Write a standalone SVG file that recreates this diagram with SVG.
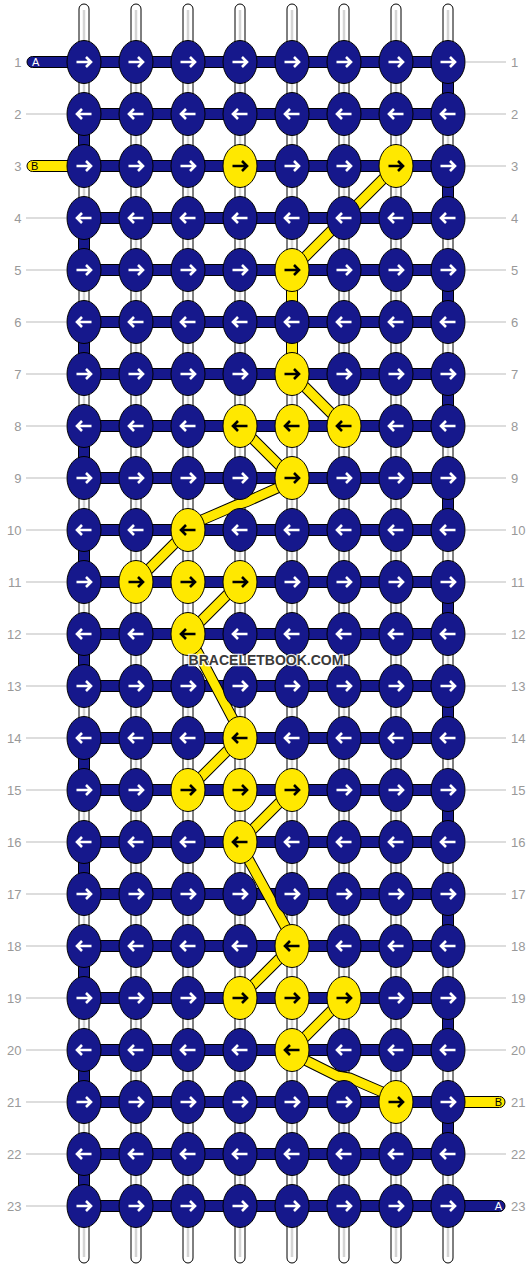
<svg xmlns="http://www.w3.org/2000/svg" xmlns:xlink="http://www.w3.org/1999/xlink" width="532" height="1268" viewBox="0 0 532 1268">
<style>
.str{fill:#fff;stroke:#000;stroke-width:1}
.strc{stroke:#d4d4d4;stroke-width:2.5}
.bar{fill:#16188c;stroke:#000;stroke-width:1}
.ybar{fill:#ffe800;stroke:#000;stroke-width:1}
.kb{fill:#16188c;stroke:#000;stroke-width:1}
.ky{fill:#ffe800;stroke:#000;stroke-width:1}
.aw{fill:none;stroke:#fff;stroke-width:2.6}
.ak{fill:none;stroke:#000;stroke-width:2.6}
.yo{fill:none;stroke:#000;stroke-width:11}
.yi{fill:none;stroke:#ffe800;stroke-width:9}
.num{font-family:"Liberation Sans",Arial,sans-serif;font-size:13px;fill:#999}
.tick{stroke:#bbb;stroke-width:1}
.lab{font-family:"Liberation Sans",Arial,sans-serif;font-size:11px}
.wm{font-family:"Liberation Sans",Arial,sans-serif;font-size:14px;font-weight:bold;fill:#3a3a3a;stroke:#fff;stroke-width:2.5;stroke-opacity:0.85;paint-order:stroke;text-anchor:middle}
</style>
<defs>
<g id="bR"><ellipse rx="17" ry="21.5" class="kb"/><path d="M-7.5,0H7M2,-5L7,0L2,5" class="aw"/></g>
<g id="bL"><ellipse rx="17" ry="21.5" class="kb"/><path d="M7.5,0H-7M-2,-5L-7,0L-2,5" class="aw"/></g>
<g id="yR"><ellipse rx="17" ry="21.5" class="ky"/><path d="M-7.5,0H7M2,-5L7,0L2,5" class="ak"/></g>
<g id="yL"><ellipse rx="17" ry="21.5" class="ky"/><path d="M7.5,0H-7M-2,-5L-7,0L-2,5" class="ak"/></g>
</defs>
<rect width="532" height="1268" fill="#fff"/>
<g id="strings">
<rect class="str" x="79" y="4" width="10" height="1259" rx="5"/>
<rect class="str" x="131" y="4" width="10" height="1259" rx="5"/>
<rect class="str" x="183" y="4" width="10" height="1259" rx="5"/>
<rect class="str" x="235" y="4" width="10" height="1259" rx="5"/>
<rect class="str" x="287" y="4" width="10" height="1259" rx="5"/>
<rect class="str" x="339" y="4" width="10" height="1259" rx="5"/>
<rect class="str" x="391" y="4" width="10" height="1259" rx="5"/>
<rect class="str" x="443" y="4" width="10" height="1259" rx="5"/>
<path class="strc" d="M84,10V1257M136,10V1257M188,10V1257M240,10V1257M292,10V1257M344,10V1257M396,10V1257M448,10V1257"/>
</g>
<g id="connectors">
<g id="row-bars">
<rect class="bar" x="27" y="56.5" width="70" height="11" rx="5.5"/>
<rect class="ybar" x="27" y="160.5" width="70" height="11" rx="5.5"/>
<rect class="ybar" x="435" y="1096.5" width="70" height="11" rx="5.5"/>
<rect class="bar" x="435" y="1200.5" width="70" height="11" rx="5.5"/>
<rect class="bar" x="84" y="56.5" width="364" height="11"/>
<rect class="bar" x="84" y="108.5" width="364" height="11"/>
<rect class="bar" x="84" y="160.5" width="364" height="11"/>
<rect class="bar" x="84" y="212.5" width="364" height="11"/>
<rect class="bar" x="84" y="264.5" width="364" height="11"/>
<rect class="bar" x="84" y="316.5" width="364" height="11"/>
<rect class="bar" x="84" y="368.5" width="364" height="11"/>
<rect class="bar" x="84" y="420.5" width="364" height="11"/>
<rect class="bar" x="84" y="472.5" width="364" height="11"/>
<rect class="bar" x="84" y="524.5" width="364" height="11"/>
<rect class="bar" x="84" y="576.5" width="364" height="11"/>
<rect class="bar" x="84" y="628.5" width="364" height="11"/>
<rect class="bar" x="84" y="680.5" width="364" height="11"/>
<rect class="bar" x="84" y="732.5" width="364" height="11"/>
<rect class="bar" x="84" y="784.5" width="364" height="11"/>
<rect class="bar" x="84" y="836.5" width="364" height="11"/>
<rect class="bar" x="84" y="888.5" width="364" height="11"/>
<rect class="bar" x="84" y="940.5" width="364" height="11"/>
<rect class="bar" x="84" y="992.5" width="364" height="11"/>
<rect class="bar" x="84" y="1044.5" width="364" height="11"/>
<rect class="bar" x="84" y="1096.5" width="364" height="11"/>
<rect class="bar" x="84" y="1148.5" width="364" height="11"/>
<rect class="bar" x="84" y="1200.5" width="364" height="11"/>
</g>
<g id="edge-turns">
<rect class="bar" x="78.5" y="114" width="11" height="52"/>
<rect class="bar" x="78.5" y="218" width="11" height="52"/>
<rect class="bar" x="78.5" y="322" width="11" height="52"/>
<rect class="bar" x="78.5" y="426" width="11" height="52"/>
<rect class="bar" x="78.5" y="530" width="11" height="52"/>
<rect class="bar" x="78.5" y="634" width="11" height="52"/>
<rect class="bar" x="78.5" y="738" width="11" height="52"/>
<rect class="bar" x="78.5" y="842" width="11" height="52"/>
<rect class="bar" x="78.5" y="946" width="11" height="52"/>
<rect class="bar" x="78.5" y="1050" width="11" height="52"/>
<rect class="bar" x="78.5" y="1154" width="11" height="52"/>
<rect class="bar" x="442.5" y="62" width="11" height="52"/>
<rect class="bar" x="442.5" y="166" width="11" height="52"/>
<rect class="bar" x="442.5" y="270" width="11" height="52"/>
<rect class="bar" x="442.5" y="374" width="11" height="52"/>
<rect class="bar" x="442.5" y="478" width="11" height="52"/>
<rect class="bar" x="442.5" y="582" width="11" height="52"/>
<rect class="bar" x="442.5" y="686" width="11" height="52"/>
<rect class="bar" x="442.5" y="790" width="11" height="52"/>
<rect class="bar" x="442.5" y="894" width="11" height="52"/>
<rect class="bar" x="442.5" y="998" width="11" height="52"/>
<rect class="bar" x="442.5" y="1102" width="11" height="52"/>
</g>
<g id="yellow-thread">
<rect class="ybar" x="286.5" y="270" width="11" height="104"/>
<path class="yo" d="M396,166L292,270M292,374L344,426M240,426L292,478M292,481.5L246.7,501.7L236.7,505L188,526M188,530L136,582M240,582L188,634M188,634L243,738M240,738L188,790M292,790L240,842M239,842L296,946M292,946L240,998M344,998L292,1050M292,1053.5L337,1076L350,1078L396,1098"/>
<path class="yi" d="M396,166L292,270M292,374L344,426M240,426L292,478M292,481.5L246.7,501.7L236.7,505L188,526M188,530L136,582M240,582L188,634M188,634L243,738M240,738L188,790M292,790L240,842M239,842L296,946M292,946L240,998M344,998L292,1050M292,1053.5L337,1076L350,1078L396,1098"/>
</g>
</g>
<g id="knots">
<g id="k1-1"><use href="#bR" x="84" y="62"/></g><g id="k1-2"><use href="#bR" x="136" y="62"/></g><g id="k1-3"><use href="#bR" x="188" y="62"/></g><g id="k1-4"><use href="#bR" x="240" y="62"/></g><g id="k1-5"><use href="#bR" x="292" y="62"/></g><g id="k1-6"><use href="#bR" x="344" y="62"/></g><g id="k1-7"><use href="#bR" x="396" y="62"/></g><g id="k1-8"><use href="#bR" x="448" y="62"/></g>
<g id="k2-1"><use href="#bL" x="84" y="114"/></g><g id="k2-2"><use href="#bL" x="136" y="114"/></g><g id="k2-3"><use href="#bL" x="188" y="114"/></g><g id="k2-4"><use href="#bL" x="240" y="114"/></g><g id="k2-5"><use href="#bL" x="292" y="114"/></g><g id="k2-6"><use href="#bL" x="344" y="114"/></g><g id="k2-7"><use href="#bL" x="396" y="114"/></g><g id="k2-8"><use href="#bL" x="448" y="114"/></g>
<g id="k3-1"><use href="#bR" x="84" y="166"/></g><g id="k3-2"><use href="#bR" x="136" y="166"/></g><g id="k3-3"><use href="#bR" x="188" y="166"/></g><g id="k3-4"><use href="#yR" x="240" y="166"/></g><g id="k3-5"><use href="#bR" x="292" y="166"/></g><g id="k3-6"><use href="#bR" x="344" y="166"/></g><g id="k3-7"><use href="#yR" x="396" y="166"/></g><g id="k3-8"><use href="#bR" x="448" y="166"/></g>
<g id="k4-1"><use href="#bL" x="84" y="218"/></g><g id="k4-2"><use href="#bL" x="136" y="218"/></g><g id="k4-3"><use href="#bL" x="188" y="218"/></g><g id="k4-4"><use href="#bL" x="240" y="218"/></g><g id="k4-5"><use href="#bL" x="292" y="218"/></g><g id="k4-6"><use href="#bL" x="344" y="218"/></g><g id="k4-7"><use href="#bL" x="396" y="218"/></g><g id="k4-8"><use href="#bL" x="448" y="218"/></g>
<g id="k5-1"><use href="#bR" x="84" y="270"/></g><g id="k5-2"><use href="#bR" x="136" y="270"/></g><g id="k5-3"><use href="#bR" x="188" y="270"/></g><g id="k5-4"><use href="#bR" x="240" y="270"/></g><g id="k5-5"><use href="#yR" x="292" y="270"/></g><g id="k5-6"><use href="#bR" x="344" y="270"/></g><g id="k5-7"><use href="#bR" x="396" y="270"/></g><g id="k5-8"><use href="#bR" x="448" y="270"/></g>
<g id="k6-1"><use href="#bL" x="84" y="322"/></g><g id="k6-2"><use href="#bL" x="136" y="322"/></g><g id="k6-3"><use href="#bL" x="188" y="322"/></g><g id="k6-4"><use href="#bL" x="240" y="322"/></g><g id="k6-5"><use href="#bL" x="292" y="322"/></g><g id="k6-6"><use href="#bL" x="344" y="322"/></g><g id="k6-7"><use href="#bL" x="396" y="322"/></g><g id="k6-8"><use href="#bL" x="448" y="322"/></g>
<g id="k7-1"><use href="#bR" x="84" y="374"/></g><g id="k7-2"><use href="#bR" x="136" y="374"/></g><g id="k7-3"><use href="#bR" x="188" y="374"/></g><g id="k7-4"><use href="#bR" x="240" y="374"/></g><g id="k7-5"><use href="#yR" x="292" y="374"/></g><g id="k7-6"><use href="#bR" x="344" y="374"/></g><g id="k7-7"><use href="#bR" x="396" y="374"/></g><g id="k7-8"><use href="#bR" x="448" y="374"/></g>
<g id="k8-1"><use href="#bL" x="84" y="426"/></g><g id="k8-2"><use href="#bL" x="136" y="426"/></g><g id="k8-3"><use href="#bL" x="188" y="426"/></g><g id="k8-4"><use href="#yL" x="240" y="426"/></g><g id="k8-5"><use href="#yL" x="292" y="426"/></g><g id="k8-6"><use href="#yL" x="344" y="426"/></g><g id="k8-7"><use href="#bL" x="396" y="426"/></g><g id="k8-8"><use href="#bL" x="448" y="426"/></g>
<g id="k9-1"><use href="#bR" x="84" y="478"/></g><g id="k9-2"><use href="#bR" x="136" y="478"/></g><g id="k9-3"><use href="#bR" x="188" y="478"/></g><g id="k9-4"><use href="#bR" x="240" y="478"/></g><g id="k9-5"><use href="#yR" x="292" y="478"/></g><g id="k9-6"><use href="#bR" x="344" y="478"/></g><g id="k9-7"><use href="#bR" x="396" y="478"/></g><g id="k9-8"><use href="#bR" x="448" y="478"/></g>
<g id="k10-1"><use href="#bL" x="84" y="530"/></g><g id="k10-2"><use href="#bL" x="136" y="530"/></g><g id="k10-3"><use href="#yL" x="188" y="530"/></g><g id="k10-4"><use href="#bL" x="240" y="530"/></g><g id="k10-5"><use href="#bL" x="292" y="530"/></g><g id="k10-6"><use href="#bL" x="344" y="530"/></g><g id="k10-7"><use href="#bL" x="396" y="530"/></g><g id="k10-8"><use href="#bL" x="448" y="530"/></g>
<g id="k11-1"><use href="#bR" x="84" y="582"/></g><g id="k11-2"><use href="#yR" x="136" y="582"/></g><g id="k11-3"><use href="#yR" x="188" y="582"/></g><g id="k11-4"><use href="#yR" x="240" y="582"/></g><g id="k11-5"><use href="#bR" x="292" y="582"/></g><g id="k11-6"><use href="#bR" x="344" y="582"/></g><g id="k11-7"><use href="#bR" x="396" y="582"/></g><g id="k11-8"><use href="#bR" x="448" y="582"/></g>
<g id="k12-1"><use href="#bL" x="84" y="634"/></g><g id="k12-2"><use href="#bL" x="136" y="634"/></g><g id="k12-3"><use href="#yL" x="188" y="634"/></g><g id="k12-4"><use href="#bL" x="240" y="634"/></g><g id="k12-5"><use href="#bL" x="292" y="634"/></g><g id="k12-6"><use href="#bL" x="344" y="634"/></g><g id="k12-7"><use href="#bL" x="396" y="634"/></g><g id="k12-8"><use href="#bL" x="448" y="634"/></g>
<g id="k13-1"><use href="#bR" x="84" y="686"/></g><g id="k13-2"><use href="#bR" x="136" y="686"/></g><g id="k13-3"><use href="#bR" x="188" y="686"/></g><g id="k13-4"><use href="#bR" x="240" y="686"/></g><g id="k13-5"><use href="#bR" x="292" y="686"/></g><g id="k13-6"><use href="#bR" x="344" y="686"/></g><g id="k13-7"><use href="#bR" x="396" y="686"/></g><g id="k13-8"><use href="#bR" x="448" y="686"/></g>
<g id="k14-1"><use href="#bL" x="84" y="738"/></g><g id="k14-2"><use href="#bL" x="136" y="738"/></g><g id="k14-3"><use href="#bL" x="188" y="738"/></g><g id="k14-4"><use href="#yL" x="240" y="738"/></g><g id="k14-5"><use href="#bL" x="292" y="738"/></g><g id="k14-6"><use href="#bL" x="344" y="738"/></g><g id="k14-7"><use href="#bL" x="396" y="738"/></g><g id="k14-8"><use href="#bL" x="448" y="738"/></g>
<g id="k15-1"><use href="#bR" x="84" y="790"/></g><g id="k15-2"><use href="#bR" x="136" y="790"/></g><g id="k15-3"><use href="#yR" x="188" y="790"/></g><g id="k15-4"><use href="#yR" x="240" y="790"/></g><g id="k15-5"><use href="#yR" x="292" y="790"/></g><g id="k15-6"><use href="#bR" x="344" y="790"/></g><g id="k15-7"><use href="#bR" x="396" y="790"/></g><g id="k15-8"><use href="#bR" x="448" y="790"/></g>
<g id="k16-1"><use href="#bL" x="84" y="842"/></g><g id="k16-2"><use href="#bL" x="136" y="842"/></g><g id="k16-3"><use href="#bL" x="188" y="842"/></g><g id="k16-4"><use href="#yL" x="240" y="842"/></g><g id="k16-5"><use href="#bL" x="292" y="842"/></g><g id="k16-6"><use href="#bL" x="344" y="842"/></g><g id="k16-7"><use href="#bL" x="396" y="842"/></g><g id="k16-8"><use href="#bL" x="448" y="842"/></g>
<g id="k17-1"><use href="#bR" x="84" y="894"/></g><g id="k17-2"><use href="#bR" x="136" y="894"/></g><g id="k17-3"><use href="#bR" x="188" y="894"/></g><g id="k17-4"><use href="#bR" x="240" y="894"/></g><g id="k17-5"><use href="#bR" x="292" y="894"/></g><g id="k17-6"><use href="#bR" x="344" y="894"/></g><g id="k17-7"><use href="#bR" x="396" y="894"/></g><g id="k17-8"><use href="#bR" x="448" y="894"/></g>
<g id="k18-1"><use href="#bL" x="84" y="946"/></g><g id="k18-2"><use href="#bL" x="136" y="946"/></g><g id="k18-3"><use href="#bL" x="188" y="946"/></g><g id="k18-4"><use href="#bL" x="240" y="946"/></g><g id="k18-5"><use href="#yL" x="292" y="946"/></g><g id="k18-6"><use href="#bL" x="344" y="946"/></g><g id="k18-7"><use href="#bL" x="396" y="946"/></g><g id="k18-8"><use href="#bL" x="448" y="946"/></g>
<g id="k19-1"><use href="#bR" x="84" y="998"/></g><g id="k19-2"><use href="#bR" x="136" y="998"/></g><g id="k19-3"><use href="#bR" x="188" y="998"/></g><g id="k19-4"><use href="#yR" x="240" y="998"/></g><g id="k19-5"><use href="#yR" x="292" y="998"/></g><g id="k19-6"><use href="#yR" x="344" y="998"/></g><g id="k19-7"><use href="#bR" x="396" y="998"/></g><g id="k19-8"><use href="#bR" x="448" y="998"/></g>
<g id="k20-1"><use href="#bL" x="84" y="1050"/></g><g id="k20-2"><use href="#bL" x="136" y="1050"/></g><g id="k20-3"><use href="#bL" x="188" y="1050"/></g><g id="k20-4"><use href="#bL" x="240" y="1050"/></g><g id="k20-5"><use href="#yL" x="292" y="1050"/></g><g id="k20-6"><use href="#bL" x="344" y="1050"/></g><g id="k20-7"><use href="#bL" x="396" y="1050"/></g><g id="k20-8"><use href="#bL" x="448" y="1050"/></g>
<g id="k21-1"><use href="#bR" x="84" y="1102"/></g><g id="k21-2"><use href="#bR" x="136" y="1102"/></g><g id="k21-3"><use href="#bR" x="188" y="1102"/></g><g id="k21-4"><use href="#bR" x="240" y="1102"/></g><g id="k21-5"><use href="#bR" x="292" y="1102"/></g><g id="k21-6"><use href="#bR" x="344" y="1102"/></g><g id="k21-7"><use href="#yR" x="396" y="1102"/></g><g id="k21-8"><use href="#bR" x="448" y="1102"/></g>
<g id="k22-1"><use href="#bL" x="84" y="1154"/></g><g id="k22-2"><use href="#bL" x="136" y="1154"/></g><g id="k22-3"><use href="#bL" x="188" y="1154"/></g><g id="k22-4"><use href="#bL" x="240" y="1154"/></g><g id="k22-5"><use href="#bL" x="292" y="1154"/></g><g id="k22-6"><use href="#bL" x="344" y="1154"/></g><g id="k22-7"><use href="#bL" x="396" y="1154"/></g><g id="k22-8"><use href="#bL" x="448" y="1154"/></g>
<g id="k23-1"><use href="#bR" x="84" y="1206"/></g><g id="k23-2"><use href="#bR" x="136" y="1206"/></g><g id="k23-3"><use href="#bR" x="188" y="1206"/></g><g id="k23-4"><use href="#bR" x="240" y="1206"/></g><g id="k23-5"><use href="#bR" x="292" y="1206"/></g><g id="k23-6"><use href="#bR" x="344" y="1206"/></g><g id="k23-7"><use href="#bR" x="396" y="1206"/></g><g id="k23-8"><use href="#bR" x="448" y="1206"/></g>
</g>
<g id="thread-labels" class="lab">
<text x="32" y="66" fill="#fff">A</text>
<text x="31" y="170" fill="#000">B</text>
<text x="502" y="1106" fill="#000" text-anchor="end">B</text>
<text x="502" y="1210" fill="#fff" text-anchor="end">A</text>
</g>
<g id="ticks" class="tick">
<path d="M26,114H66M26,218H66M26,270H66M26,322H66M26,374H66M26,426H66M26,478H66M26,530H66M26,582H66M26,634H66M26,686H66M26,738H66M26,790H66M26,842H66M26,894H66M26,946H66M26,998H66M26,1050H66M26,1102H66M26,1154H66M26,1206H66"/>
<path d="M466,62H506M466,114H506M466,166H506M466,218H506M466,270H506M466,322H506M466,374H506M466,426H506M466,478H506M466,530H506M466,582H506M466,634H506M466,686H506M466,738H506M466,790H506M466,842H506M466,894H506M466,946H506M466,998H506M466,1050H506M466,1154H506"/>
</g>
<g id="row-numbers-left" class="num" text-anchor="end">
<text x="21.5" y="66.5">1</text><text x="21.5" y="118.5">2</text><text x="21.5" y="170.5">3</text><text x="21.5" y="222.5">4</text><text x="21.5" y="274.5">5</text><text x="21.5" y="326.5">6</text><text x="21.5" y="378.5">7</text><text x="21.5" y="430.5">8</text><text x="21.5" y="482.5">9</text><text x="21.5" y="534.5">10</text><text x="21.5" y="586.5">11</text><text x="21.5" y="638.5">12</text><text x="21.5" y="690.5">13</text><text x="21.5" y="742.5">14</text><text x="21.5" y="794.5">15</text><text x="21.5" y="846.5">16</text><text x="21.5" y="898.5">17</text><text x="21.5" y="950.5">18</text><text x="21.5" y="1002.5">19</text><text x="21.5" y="1054.5">20</text><text x="21.5" y="1106.5">21</text><text x="21.5" y="1158.5">22</text><text x="21.5" y="1210.5">23</text>
</g>
<g id="row-numbers-right" class="num">
<text x="511" y="66.5">1</text><text x="511" y="118.5">2</text><text x="511" y="170.5">3</text><text x="511" y="222.5">4</text><text x="511" y="274.5">5</text><text x="511" y="326.5">6</text><text x="511" y="378.5">7</text><text x="511" y="430.5">8</text><text x="511" y="482.5">9</text><text x="511" y="534.5">10</text><text x="511" y="586.5">11</text><text x="511" y="638.5">12</text><text x="511" y="690.5">13</text><text x="511" y="742.5">14</text><text x="511" y="794.5">15</text><text x="511" y="846.5">16</text><text x="511" y="898.5">17</text><text x="511" y="950.5">18</text><text x="511" y="1002.5">19</text><text x="511" y="1054.5">20</text><text x="511" y="1106.5">21</text><text x="511" y="1158.5">22</text><text x="511" y="1210.5">23</text>
</g>
<text id="watermark" class="wm" x="266" y="664.5">BRACELETBOOK.COM</text>
</svg>
